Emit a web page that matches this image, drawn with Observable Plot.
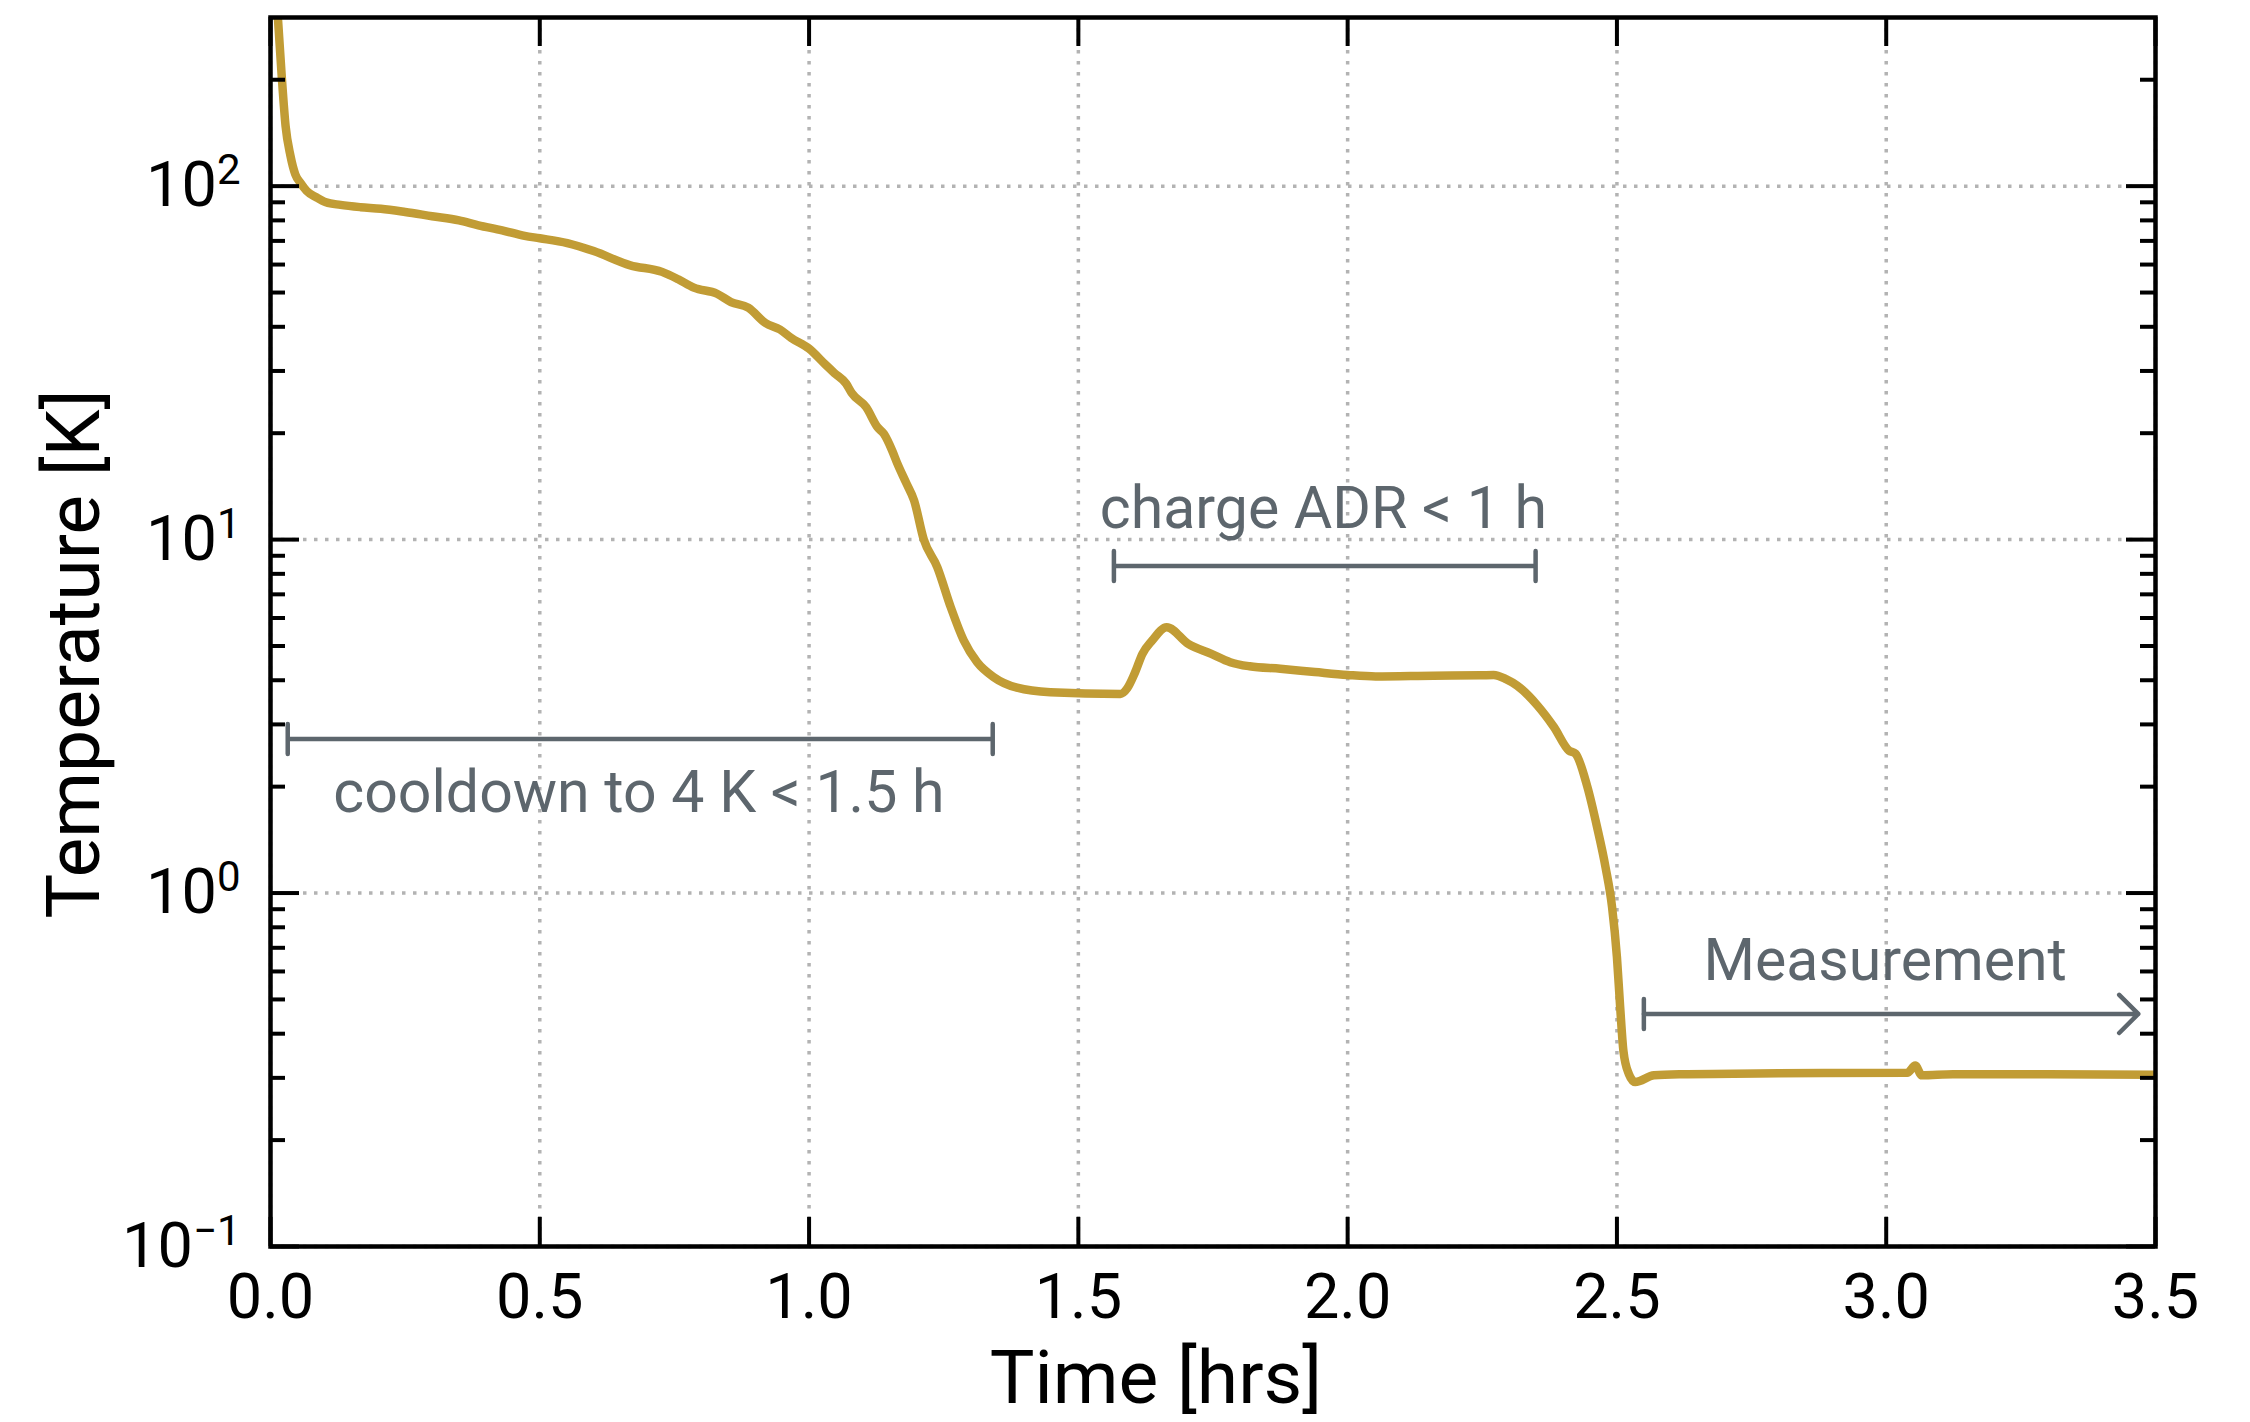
<!DOCTYPE html>
<html>
<head>
<meta charset="utf-8">
<script src="https://cdn.jsdelivr.net/npm/d3@7"></script>
<script src="https://cdn.jsdelivr.net/npm/@observablehq/plot@0.6"></script>
<style>
  html, body { margin: 0; padding: 0; background: #ffffff; }
  #chart svg { display: block; }
</style>
</head>
<body>
<div id="chart"></div>
<script>
// ---- data ----
const timeHrs = [0.005, 0.014, 0.021, 0.028, 0.037, 0.046, 0.056, 0.067, 0.085, 0.103, 0.13, 0.167, 0.205, 0.25, 0.3, 0.35, 0.386, 0.43, 0.472, 0.5, 0.551, 0.6, 0.668, 0.727, 0.757, 0.786, 0.829, 0.855, 0.887, 0.919, 0.946, 0.967, 1.0, 1.031, 1.047, 1.069, 1.079, 1.106, 1.127, 1.139, 1.154, 1.164, 1.18, 1.195, 1.213, 1.238, 1.263, 1.287, 1.312, 1.343, 1.386, 1.448, 1.578, 1.591, 1.605, 1.619, 1.637, 1.664, 1.704, 1.747, 1.782, 1.818, 1.875, 1.939, 2.0, 2.052, 2.159, 2.247, 2.271, 2.294, 2.315, 2.352, 2.383, 2.411, 2.423, 2.445, 2.463, 2.479, 2.491, 2.5, 2.506, 2.512, 2.522, 2.534, 2.569, 2.618, 2.8, 3.039, 3.054, 3.066, 3.124, 3.3, 3.5];
const tempK = [500, 295, 203, 148, 122, 108, 102, 97, 93, 90, 88.5, 87.2, 86.3, 84.5, 82.2, 80, 77.5, 75, 72.3, 71.2, 69, 65.5, 59.7, 57.2, 54.5, 51.6, 49.6, 47, 45.3, 41, 39.3, 37.2, 34.7, 31.2, 29.6, 27.6, 26, 23.7, 20.8, 19.9, 17.9, 16.4, 14.5, 12.9, 10, 8.36, 6.44, 5.19, 4.5, 4.08, 3.81, 3.7, 3.66, 3.8, 4.2, 4.75, 5.18, 5.65, 5.07, 4.75, 4.5, 4.38, 4.31, 4.22, 4.14, 4.1, 4.12, 4.13, 4.14, 4.03, 3.86, 3.4, 2.95, 2.53, 2.48, 2.0, 1.54, 1.18, 0.912, 0.659, 0.476, 0.358, 0.308, 0.292, 0.305, 0.307, 0.309, 0.31, 0.325, 0.305, 0.307, 0.307, 0.306];

const xTicks = [0, 0.5, 1, 1.5, 2, 2.5, 3, 3.5];
const xTickLabels = ["0.0", "0.5", "1.0", "1.5", "2.0", "2.5", "3.0", "3.5"];
const yMajorTicks = [0.1, 1, 10, 100];
const yTickLabels = ["10^\u22121", "10^0", "10^1", "10^2"];
const yMinorTicks = [0.2, 0.3, 0.4, 0.5, 0.6, 0.7, 0.8, 0.9, 2, 3, 4, 5, 6, 7, 8, 9, 20, 30, 40, 50, 60, 70, 80, 90, 200];

const annotationLabels = ["cooldown to 4 K < 1.5 h", "charge ADR < 1 h", "Measurement"];
const annotationStart = [0.032, 1.566, 2.55];
const annotationEnd = [1.341, 2.349, 3.468];
const annotationBarTemp = [2.73, 8.42, 0.455];
const annotationTextTime = [0.684, 1.955, 2.998];
const annotationTextTemp = [1.69, 10.8, 0.566];
const annotationIsArrow = [false, false, true];

const xLabel = "Time [hrs]";
const yLabel = "Temperature [K]";

// ---- build tables ----
const series = timeHrs.map((t, i) => ({t, T: tempK[i]}));
const annotations = annotationLabels.map((label, i) => ({
  label, x1: annotationStart[i], x2: annotationEnd[i], yBar: annotationBarTemp[i],
  xText: annotationTextTime[i], yText: annotationTextTemp[i], arrow: annotationIsArrow[i]
}));
const caps = [];
annotations.forEach(a => {
  caps.push({x: a.x1, y: a.yBar});
  if (!a.arrow) caps.push({x: a.x2, y: a.yBar});
});

const W = 2250, H = 1422;
const mL = 270, mR = 95, mT = 17, mB = 176;
const plotW = W - mL - mR, plotH = H - mT - mB;
const majorLen = 29, minorLen = 15;
const tickW = 4;
const annColor = "#5d666d";
const gridStyle = {stroke: "#b3b3b3", strokeOpacity: 1, strokeWidth: 3.5, strokeDasharray: "3.5,7.5"};
const capShape = {draw(context, l) { context.moveTo(0, 0); context.lineTo(0, -l); }};

const chart = Plot.plot({
  width: W,
  height: H,
  marginLeft: mL, marginRight: mR, marginTop: mT, marginBottom: mB,
  style: {fontFamily: "Roboto, 'Open Sans', 'DejaVu Sans', sans-serif", background: "#ffffff", color: "#000"},
  x: {domain: [0, 3.5]},
  y: {type: "log", domain: [0.1, 300]},
  marks: [
    Plot.gridX(xTicks, gridStyle),
    Plot.gridY(yMajorTicks, gridStyle),
    Plot.line(series, {x: "t", y: "T", stroke: "#c19c35", strokeWidth: 8.5, curve: "monotone-x", clip: true, strokeLinejoin: "round"}),
    // annotation bars
    Plot.link(annotations.filter(a => !a.arrow), {x1: "x1", x2: "x2", y1: "yBar", y2: "yBar", stroke: annColor, strokeWidth: 4.5}),
    Plot.arrow(annotations.filter(a => a.arrow), {x1: "x1", x2: "x2", y1: "yBar", y2: "yBar", stroke: annColor, strokeWidth: 4.5, headAngle: 90, headLength: 9, strokeLinejoin: "round", strokeLinecap: "round"}),
    Plot.vector(caps, {x: "x", y: "y", length: 30, rotate: 0, anchor: "middle", shape: capShape, stroke: annColor, strokeWidth: 4.5}),
    Plot.text(annotations, {x: "xText", y: "yText", text: "label", fontSize: 59, fill: annColor, textAnchor: "middle", lineAnchor: "bottom"}),
    // axes labels
    Plot.axisX(xTicks, {tickSize: 0, tickPadding: 27, fontSize: 63, label: null, tickFormat: d => xTickLabels[xTicks.indexOf(d)]}),
    Plot.axisY(yMajorTicks, {tickSize: 0, tickPadding: 30, fontSize: 63, label: null, tickFormat: d => yTickLabels[yMajorTicks.indexOf(d)]}),
    // inward ticks on all four sides
    Plot.tickX(xTicks, {x: d => d, insetTop: plotH - majorLen, stroke: "#000", strokeWidth: tickW}),
    Plot.tickX(xTicks, {x: d => d, insetBottom: plotH - majorLen, stroke: "#000", strokeWidth: tickW}),
    Plot.tickY(yMajorTicks, {y: d => d, insetRight: plotW - majorLen, stroke: "#000", strokeWidth: tickW}),
    Plot.tickY(yMajorTicks, {y: d => d, insetLeft: plotW - majorLen, stroke: "#000", strokeWidth: tickW}),
    Plot.tickY(yMinorTicks, {y: d => d, insetRight: plotW - minorLen, stroke: "#000", strokeWidth: tickW}),
    Plot.tickY(yMinorTicks, {y: d => d, insetLeft: plotW - minorLen, stroke: "#000", strokeWidth: tickW}),
    Plot.frame({stroke: "#000", strokeWidth: 4.5}),
    // axis titles
    Plot.text([xLabel], {text: d => d, frameAnchor: "bottom", dx: -57, dy: 156, fontSize: 75, fill: "#000", textAnchor: "middle", lineAnchor: "bottom"}),
    Plot.text([yLabel], {text: d => d, frameAnchor: "left", rotate: -90, dx: -172, dy: 22, fontSize: 75, fill: "#000", textAnchor: "middle", lineAnchor: "bottom"})
  ]
});

// superscripts for the log tick labels
chart.querySelectorAll('g[aria-label="y-axis tick label"] text').forEach(el => {
  const s = el.textContent;
  const k = s.indexOf("^");
  if (k < 0) return;
  const base = s.slice(0, k), exp = s.slice(k + 1);
  el.textContent = "";
  const t1 = document.createElementNS("http://www.w3.org/2000/svg", "tspan");
  t1.textContent = base;
  const t2 = document.createElementNS("http://www.w3.org/2000/svg", "tspan");
  t2.textContent = exp;
  t2.setAttribute("font-size", "42");
  t2.setAttribute("dy", "-22");
  el.appendChild(t1);
  el.appendChild(t2);
});

document.getElementById("chart").appendChild(chart);
</script>
</body>
</html>
